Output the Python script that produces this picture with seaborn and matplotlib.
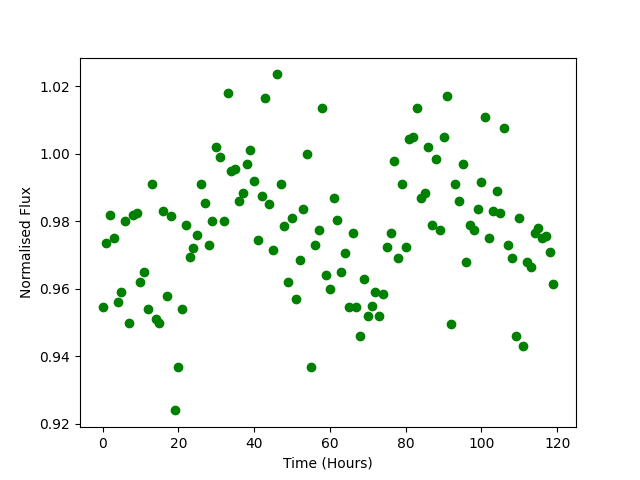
import numpy as np
import pandas as pd
import seaborn as sns
import matplotlib
matplotlib.use('Agg')
import matplotlib.pyplot as plt

hours = list(range(120))

flux = [
    0.9545, 0.9735, 0.982, 0.975, 0.956, 0.959, 0.980, 0.950, 0.982, 0.9825,
    0.962, 0.965, 0.954, 0.991, 0.951, 0.950, 0.983, 0.958, 0.9815, 0.924,
    0.937, 0.954, 0.979, 0.9695, 0.972, 0.976, 0.991, 0.9855, 0.973, 0.980,
    1.002, 0.999, 0.980, 1.018, 0.995, 0.9955, 0.986, 0.9885, 0.997, 1.001,
    0.992, 0.9745, 0.9875, 1.0165, 0.985, 0.9715, 1.0235, 0.991, 0.9785, 0.962,
    0.981, 0.957, 0.9685, 0.9835, 1.000, 0.937, 0.973, 0.9775, 1.0135, 0.964,
    0.960, 0.987, 0.9805, 0.965, 0.9705, 0.9545, 0.9765, 0.9545, 0.946, 0.963,
    0.952, 0.955, 0.959, 0.952, 0.9585, 0.9725, 0.9765, 0.998, 0.969, 0.991,
    0.9725, 1.0045, 1.005, 1.0135, 0.987, 0.9885, 1.002, 0.979, 0.9985, 0.9775,
    1.005, 1.017, 0.9495, 0.991, 0.986, 0.997, 0.968, 0.979, 0.9775, 0.9835,
    0.9915, 1.011, 0.975, 0.983, 0.989, 0.9825, 1.0075, 0.973, 0.969, 0.946,
    0.981, 0.943, 0.968, 0.9665, 0.9765, 0.978, 0.975, 0.9755, 0.971, 0.9615,
]

df = pd.DataFrame({'Time (Hours)': hours, 'Normalised Flux': flux})

fig, ax = plt.subplots(figsize=(6.4, 4.8), dpi=100)
sns.scatterplot(data=df, x='Time (Hours)', y='Normalised Flux', color='green',
                s=36, edgecolor='green', linewidth=1, ax=ax)
plt.savefig('out.png', dpi=100)
